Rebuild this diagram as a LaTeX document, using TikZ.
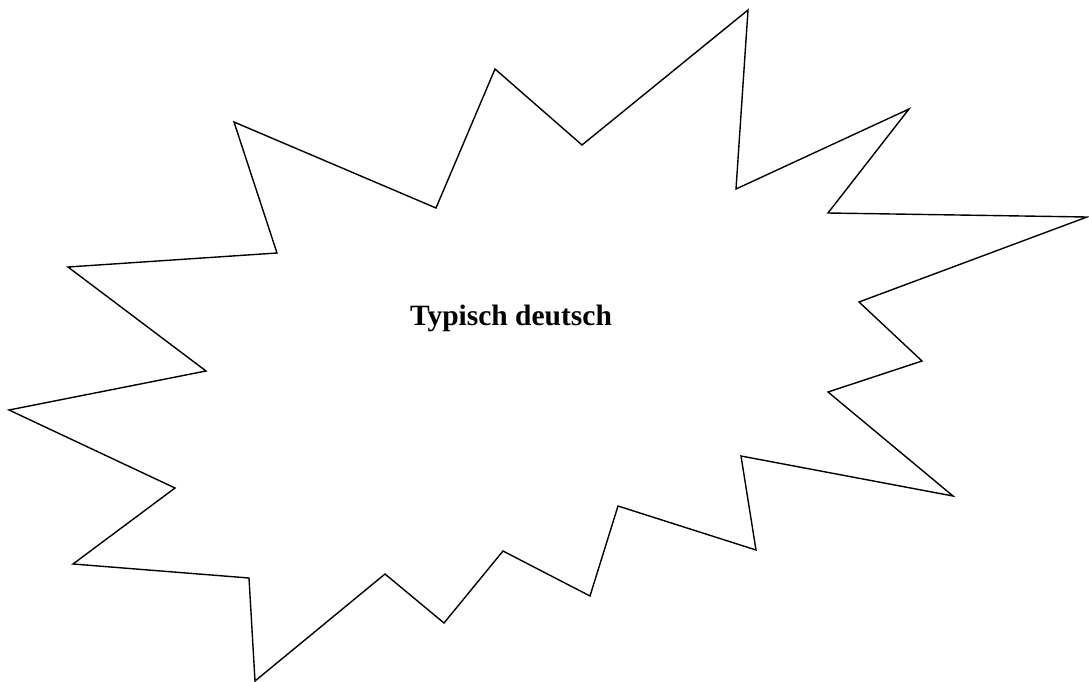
\documentclass[tikz,border=0pt]{standalone}
\usepackage{fontspec}
\setmainfont{Liberation Serif}
\usepackage{tikz}

\begin{document}
\begin{tikzpicture}[
  x=1pt, y=-1pt,
  burst/.style={draw=black, line width=1.4pt, line join=miter},
  burstlabel/.style={font=\fontsize{29.5}{34}\selectfont\bfseries, anchor=base},
]
\useasboundingbox (0,0) rectangle (1089,682);
% outline of the star, clockwise from the top peak
\draw[burst] (748,10) -- (736,189) -- (909,109) -- (828,213) -- (1087,217)
  -- (859,302) -- (922,361) -- (828,392) -- (953,496) -- (741,456)
  -- (756,550) -- (618,506) -- (590,596) -- (503,551) -- (444,623)
  -- (385,574) -- (255,681) -- (249,578) -- (73,564) -- (175,488)
  -- (9,410) -- (206,371) -- (68,267) -- (277,253) -- (234,122)
  -- (436,208) -- (495,69) -- (582,145) -- cycle;
\node[burstlabel] (title) at (511,325) {Typisch deutsch};
\end{tikzpicture}
\end{document}
